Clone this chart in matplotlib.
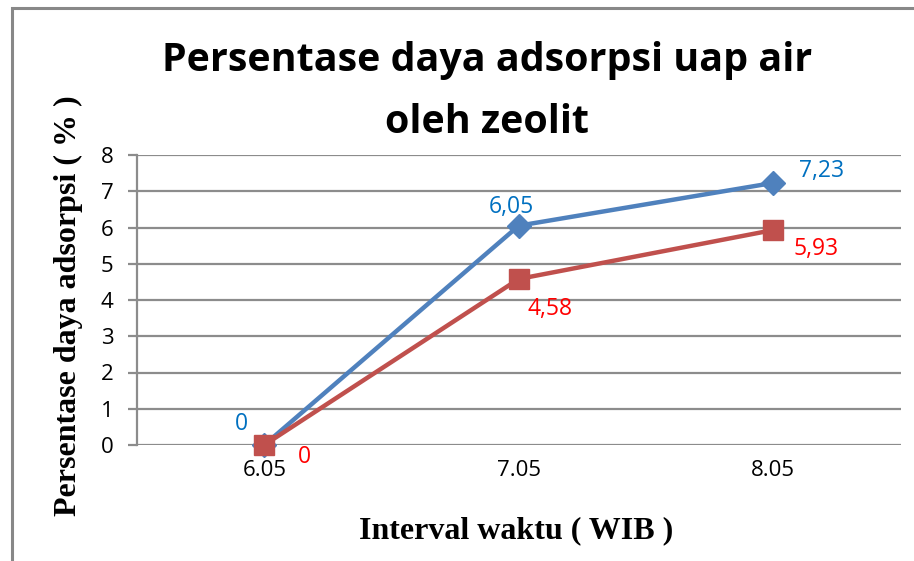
import matplotlib
matplotlib.use("Agg")
import matplotlib.pyplot as plt
from matplotlib.patches import Rectangle

categories = ["6.05", "7.05", "8.05"]
series_blue = [0, 6.05, 7.23]
series_red = [0, 4.58, 5.93]
labels_blue = ["0", "6,05", "7,23"]
labels_red = ["0", "4,58", "5,93"]
yticks = [0, 1, 2, 3, 4, 5, 6, 7, 8]

W, H = 914, 561
fig = plt.figure(figsize=(W / 100, H / 100), dpi=100)
fig.patch.set_facecolor("white")

# outer chart border (extends beyond right/bottom edge)
fig.patches.append(Rectangle((12 / W, -0.05), 1.2, (H - 8) / H + 0.05,
                             transform=fig.transFigure, fill=False,
                             edgecolor="#888888", lw=2.2, zorder=0))

ax = fig.add_axes([137 / W, 1 - 445 / H, (900.5 - 137) / W, (445 - 155) / H])
x = list(range(len(categories)))
ax.set_xlim(-0.5, 2.5)
ax.set_ylim(0, 8)
ax.set_yticks(yticks)
ax.set_xticks(x)
ax.set_xticklabels(categories)
ax.grid(axis="y", color="#8c8c8c", lw=1.6)
ax.set_axisbelow(True)
for s in ["top", "right", "bottom"]:
    ax.spines[s].set_visible(False)
ax.spines["left"].set_color("#8c8c8c")
ax.spines["left"].set_linewidth(1.6)
ax.tick_params(axis="y", length=6.5, width=1.6, color="#8c8c8c", pad=10.5,
               labelsize=16, labelcolor="#000000")
ax.tick_params(axis="x", length=0, pad=11, labelsize=16, labelcolor="#000000")
for lab in ax.get_xticklabels() + ax.get_yticklabels():
    lab.set_fontfamily("Open Sans")

ax.plot(x, series_blue, color="#4F81BD", lw=3.2, marker="D", ms=12,
        zorder=3, clip_on=False)
ax.plot(x, series_red, color="#C0504D", lw=3.2, marker="s", ms=14.5,
        zorder=4, clip_on=False)

blue_off = [(-23, 21), (-7, 19), (48, 12)]
red_off = [(40, -12), (31, -30), (43, -19)]
for xi, yi, t, o in zip(x, series_blue, labels_blue, blue_off):
    ax.annotate(t, (xi, yi), xytext=o, textcoords="offset pixels",
                ha="center", va="center", color="#0070C0", fontsize=16.5,
                family="Open Sans")
for xi, yi, t, o in zip(x, series_red, labels_red, red_off):
    ax.annotate(t, (xi, yi), xytext=o, textcoords="offset pixels",
                ha="center", va="center", color="#FF0000", fontsize=16.5,
                family="Open Sans")

fig.text(487 / W, 1 - 60 / H, "Persentase daya adsorpsi uap air",
         ha="center", va="center", fontsize=28.4, fontweight="bold",
         family="Open Sans")
fig.text(487 / W, 1 - 122 / H, "oleh zeolit",
         ha="center", va="center", fontsize=28.4, fontweight="bold",
         family="Open Sans")
fig.text(68 / W, 1 - 306 / H, "Persentase daya adsorpsi ( % )",
         ha="center", va="center", rotation=90, fontsize=23,
         fontweight="bold", family="Liberation Serif")
fig.text(516 / W, 1 - 531 / H, "Interval waktu ( WIB )",
         ha="center", va="center", fontsize=23, fontweight="bold",
         family="Liberation Serif")

fig.savefig("out.png", dpi=100)
